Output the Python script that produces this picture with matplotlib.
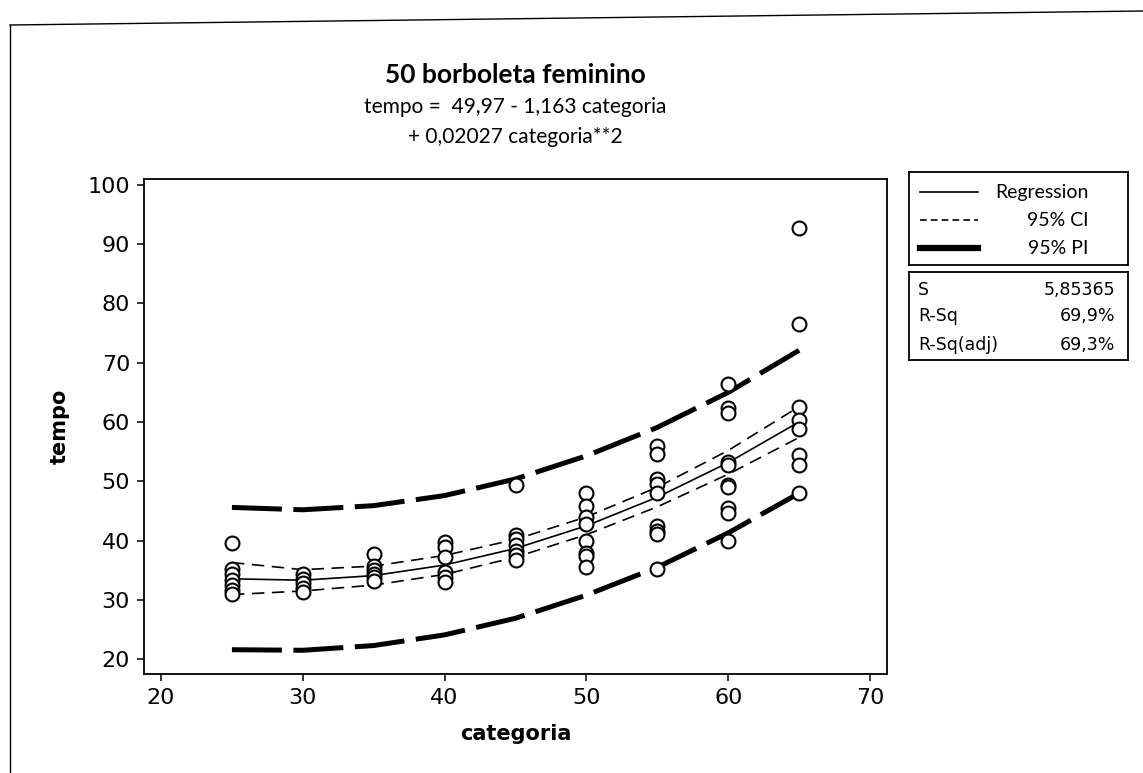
import matplotlib
matplotlib.use("Agg")
import matplotlib.pyplot as plt
from matplotlib.lines import Line2D

# --- data ---
grupos = [25, 30, 35, 40, 45, 50, 55, 60, 65]

tempo_25 = [39.6, 35.2, 34.3, 33.4, 32.5, 31.6, 31.0]
tempo_30 = [34.3, 33.5, 32.8, 32.0, 31.4]
tempo_35 = [37.7, 35.8, 35.1, 34.4, 33.8, 33.2]
tempo_40 = [39.8, 38.9, 37.3, 34.7, 33.9, 33.1]
tempo_45 = [49.3, 41.0, 40.2, 39.2, 38.3, 37.5, 36.8]
tempo_50 = [48.1, 45.9, 43.9, 42.8, 40.0, 37.9, 37.4, 35.6]
tempo_55 = [56.0, 54.6, 50.4, 49.5, 48.1, 42.5, 41.7, 41.1, 35.2]
tempo_60 = [66.5, 62.3, 61.5, 53.3, 52.8, 49.4, 49.0, 45.5, 44.6, 40.0]
tempo_65 = [92.8, 76.5, 62.6, 60.4, 58.9, 54.5, 52.8, 48.0]

# fitted curve and bands at each category
regressao = [33.56, 33.32, 34.10, 35.88, 38.68, 42.50, 47.32, 53.16, 60.02]
ic_sup = [36.3, 35.1, 35.7, 37.5, 40.2, 44.0, 49.0, 55.2, 62.6]
ic_inf = [30.9, 31.5, 32.5, 34.3, 37.2, 41.0, 45.7, 51.2, 57.4]
ip_sup = [45.6, 45.2, 45.9, 47.6, 50.4, 54.3, 59.1, 65.0, 72.1]
ip_inf = [21.6, 21.5, 22.3, 24.1, 26.9, 30.8, 35.5, 41.3, 48.0]

x_ticks = [20, 30, 40, 50, 60, 70]
y_ticks = [20, 30, 40, 50, 60, 70, 80, 90, 100]

legenda = ["Regression", "95% CI", "95% PI"]
estat_nomes = ["S", "R-Sq", "R-Sq(adj)"]
estat_valores = ["5,85365", "69,9%", "69,3%"]

W, H = 1143, 773


def box(left, top, right, bottom):
    # pixel box -> figure fraction [l, b, w, h]
    return [left / W, 1 - bottom / H, (right - left) / W, (bottom - top) / H]


fig = plt.figure(figsize=(W / 100, H / 100), dpi=100)
fig.patch.set_facecolor("white")

ax = fig.add_axes(box(144, 179, 887, 674))

pontos = [tempo_25, tempo_30, tempo_35, tempo_40, tempo_45,
          tempo_50, tempo_55, tempo_60, tempo_65]
for g, vals in zip(grupos, pontos):
    ax.plot([g] * len(vals), vals, linestyle="none", marker="o", ms=10,
            mfc="white", mec="black", mew=1.5, zorder=3)

ax.plot(grupos, regressao, color="black", lw=1.2, zorder=2)
ax.plot(grupos, ic_sup, color="black", lw=1.2, dashes=(7.5, 4.5), zorder=2)
ax.plot(grupos, ic_inf, color="black", lw=1.2, dashes=(7.5, 4.5), zorder=2)
ax.plot(grupos, ip_sup, color="black", lw=3.6, dashes=(10, 2.3), zorder=2)
ax.plot(grupos, ip_inf, color="black", lw=3.6, dashes=(10, 2.3), zorder=2)

ax.set_xlim(18.8, 71.2)
ax.set_ylim(17.5, 101.0)
ax.set_xticks(x_ticks)
ax.set_yticks(y_ticks)
ax.tick_params(direction="out", length=5, width=1.1, labelsize=16, pad=5)
for s in ax.spines.values():
    s.set_linewidth(1.3)

ax.set_xlabel("categoria", fontsize=15, fontweight="bold")
ax.set_ylabel("tempo", fontsize=15, fontweight="bold")
ax.xaxis.set_label_coords(0.5, -0.1)
ax.yaxis.set_label_coords(-0.1, 0.5)

# titles
fam_titulo = ["Lato", "DejaVu Sans"]
cx = (144 + 887) / 2 / W
fig.text(cx, 1 - 75 / H, "50 borboleta feminino", ha="center", va="center",
         fontsize=19, fontweight="bold", family=fam_titulo)
fig.text(cx, 1 - 107 / H, "tempo =  49,97 - 1,163 categoria", ha="center",
         va="center", fontsize=15, family=fam_titulo)
fig.text(cx, 1 - 137 / H, "+ 0,02027 categoria**2", ha="center",
         va="center", fontsize=15, family=fam_titulo)

# legend box
lg = fig.add_axes(box(909, 172, 1128, 265))
lg.set_xlim(0, 1)
lg.set_ylim(0, 1)
lg.set_xticks([])
lg.set_yticks([])
for s in lg.spines.values():
    s.set_linewidth(1.3)
rows = [0.78, 0.48, 0.18]
estilos = [dict(lw=1.2), dict(lw=1.2, dashes=(4, 2.5)), dict(lw=4.5)]
for y, txt, st in zip(rows, legenda, estilos):
    lg.add_line(Line2D([0.05, 0.315], [y, y], color="black", **st))
    lg.text(0.82, y, txt, ha="right", va="center", fontsize=14,
            family=fam_titulo)

# statistics box
st_ax = fig.add_axes(box(909, 272, 1128, 360))
st_ax.set_xlim(0, 1)
st_ax.set_ylim(0, 1)
st_ax.set_xticks([])
st_ax.set_yticks([])
for s in st_ax.spines.values():
    s.set_linewidth(1.3)
for y, nome, val in zip([0.8, 0.5, 0.17], estat_nomes, estat_valores):
    st_ax.text(0.04, y, nome, ha="left", va="center", fontsize=12.5,
               family="DejaVu Sans")
    st_ax.text(0.94, y, val, ha="right", va="center", fontsize=12.5,
               family="DejaVu Sans")

# page border (scanned frame)
fig.add_artist(Line2D([10 / W, 10 / W], [1 - 25 / H, 0], color="black",
                      lw=1.0, transform=fig.transFigure))
fig.add_artist(Line2D([10 / W, 1], [1 - 25 / H, 1 - 11 / H], color="black",
                      lw=1.0, transform=fig.transFigure))

fig.savefig("out.png", dpi=100)
